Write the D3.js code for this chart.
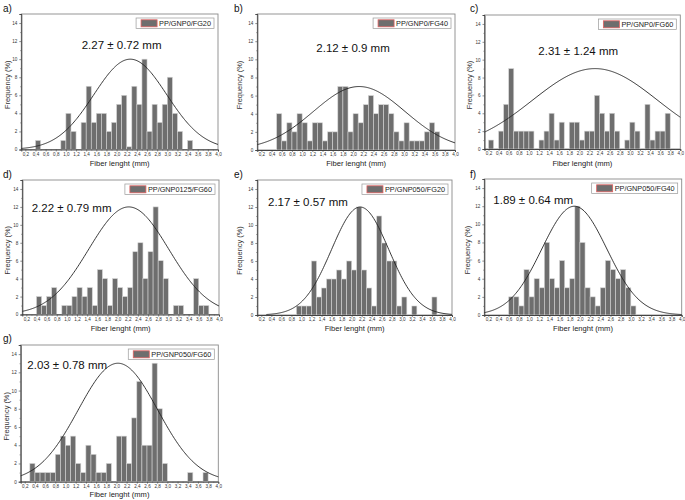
<!DOCTYPE html>
<html><head><meta charset="utf-8">
<script src="https://cdn.jsdelivr.net/npm/d3@7"></script>
<style>
body{margin:0;background:#fff}
svg text{font-family:"Liberation Sans",Arial,Helvetica,sans-serif}
</style>
</head><body>
<svg id="chart" width="685" height="500"></svg>
<script>
// ---------- data ----------
const bins = [0.1,0.2,0.3,0.4,0.5,0.6,0.7,0.8,0.9,1.0,1.1,1.2,1.3,1.4,1.5,1.6,1.7,1.8,1.9,2.0,
              2.1,2.2,2.3,2.4,2.5,2.6,2.7,2.8,2.9,3.0,3.1,3.2,3.3,3.4,3.5,3.6,3.7,3.8,3.9];
const binWidth = 0.1;
const panelTags = ["a)","b)","c)","d)","e)","f)","g)"];
const seriesNames = ["PP/GNP0/FG20","PP/GNP0/FG40","PP/GNP0/FG60","PP/GNP0125/FG60",
                     "PP/GNP050/FG20","PP/GNP050/FG40","PP/GNP050/FG60"];
const meanVals = [2.27,2.12,2.31,2.22,2.17,1.89,2.03];
const sdVals   = [0.72,0.9,1.24,0.79,0.57,0.64,0.78];
const fitPeaks = [10,7,9,12,12,12,13];
const curveStart = [0.12,0.12,0.12,0.12,0.3,0.12,0.12];
const freqA = [0,0,0,1,0,0,0,0,1,4, 2,0,3,7,3,4,4,2,3,5, 6,0.3,7,5,10,2,5,3,5,8, 4,2,0,1,0,0,0,0,0];
const freqB = [0,0,0,0,4,1,3,2,4,3, 1,3,3,1,2,2,7,7,2,4, 3,5,6,4,5,5,4,2,1,3, 1,1,1,2,3,2,0,0,0];
const freqC = [0,1,0,2,5,9,2,2,2,2, 0,1,2,4,1,3,0,3,3,1, 2,2,6,4,2,4,2,0,1,3, 2,0,5,1,2,2,4,0,0];
const freqD = [0,0,0,2,1,2,3,0,1,1, 2,3,2,3,1,5,4,1,4,3, 2,3,7,8,4,7,12,6,4,0, 1,1,0,0,4,1,1,0,0];
const freqE = [0,0,0,0,0,0,0,0,1,1, 1,6,2,3,4,4,5,4,6,5, 12,5,3,1,11,8,6,6,1,2, 0,1,0,0,0,2,0,0,0];
const freqF = [0,0,0,0,0,2,2,1,5,2, 4,3,8,4,3,6,3,4,12,8, 3,2,1,3,6,5,4,5,3,1, 0,0,0,0,0,0,0,0,0];
const freqG = [0,0,2,1,1,1,1,3,5,4, 5,2,1,4,3,1,1,2,0,5, 5,2,7,11,4,4,13,8,2,0, 0,0,0,1,0,0,1,0,0];
const xTickVals = [0.2,0.4,0.6,0.8,1.0,1.2,1.4,1.6,1.8,2.0,2.2,2.4,2.6,2.8,3.0,3.2,3.4,3.6,3.8,4.0];
const yTickVals = [0,2,4,6,8,10,12,14];
const xDomain = [0.12,4.0];
const yDomain = [0,15];
const xTitle = "Fiber lenght (mm)";
const yTitle = "Frequency (%)";

const freqs = [freqA,freqB,freqC,freqD,freqE,freqF,freqG];

// ---------- layout ----------
const layout = [
  {l:21.3, t:14,  r:218,   b:149.5, ann:[81.7,49],   tag:[3,11.5],   yt:7,     xtY:166},
  {l:257.3,t:14,  r:455,   b:150,   ann:[316.3,51.7],tag:[234,11.5], yt:239.7, xtY:166},
  {l:484.5,t:15,  r:680.3, b:149,   ann:[538.3,55],  tag:[470,11.5], yt:469,   xtY:166},
  {l:22.3, t:180, r:219,   b:314.5, ann:[31.7,211.7],tag:[3,177.5],  yt:7.3,   xtY:331},
  {l:257.3,t:180, r:452,   b:315,   ann:[268,206.3], tag:[234,177.5],yt:239.7, xtY:331},
  {l:484.3,t:179, r:681.7, b:315,   ann:[493.3,204], tag:[470,177.5],yt:467.7, xtY:331},
  {l:20.7, t:345, r:218.3, b:481.7, ann:[27.3,369],  tag:[3,342],    yt:6,     xtY:497}
];

const svg = d3.select("#chart");
const fmtX = d => d.toFixed(1).replace(".", ",");

layout.forEach((L, p) => {
  const x = d3.scaleLinear().domain(xDomain).range([L.l, L.r]);
  const y = d3.scaleLinear().domain(yDomain).range([L.b, L.t]);
  const g = svg.append("g");

  // frame
  g.append("rect").attr("x", L.l).attr("y", L.t).attr("width", L.r - L.l).attr("height", L.b - L.t)
    .attr("fill", "none").attr("stroke", "#8a8a8a").attr("stroke-width", 0.9);

  // bars
  g.append("g").selectAll("rect")
    .data(bins.map((b, i) => ({b, v: freqs[p][i]})).filter(d => d.v > 0))
    .join("rect")
    .attr("x", d => x(d.b))
    .attr("width", d => x(d.b + binWidth) - x(d.b))
    .attr("y", d => y(d.v))
    .attr("height", d => y(0) - y(d.v))
    .attr("fill", "#6e6e6e")
    .attr("stroke", "#d4d4d4")
    .attr("stroke-width", 0.6);

  // fitted normal curve
  const pts = d3.range(curveStart[p], xDomain[1] + 1e-6, 0.02).map(v =>
    [v, fitPeaks[p] * Math.exp(-((v - meanVals[p]) ** 2) / (2 * sdVals[p] ** 2))]);
  g.append("path").datum(pts)
    .attr("d", d3.line().x(d => x(d[0])).y(d => y(d[1])).curve(d3.curveBasis))
    .attr("fill", "none").attr("stroke", "#222").attr("stroke-width", 0.9);

  // axes
  const xa = g.append("g").attr("transform", `translate(0,${L.b})`)
    .call(d3.axisBottom(x).tickValues(xTickVals).tickSize(2).tickPadding(1.2).tickFormat(fmtX));
  const ya = g.append("g").attr("transform", `translate(${L.l},0)`)
    .call(d3.axisLeft(y).tickValues(yTickVals).tickSize(2).tickPadding(2).tickFormat(d3.format("d")));
  [xa, ya].forEach(a => {
    a.select(".domain").attr("stroke", "#333").attr("stroke-width", 0.9);
    a.selectAll(".tick line").attr("stroke", "#444").attr("stroke-width", 0.6);
    a.selectAll(".tick text").attr("font-size", 4.6).attr("fill", "#333")
      .style("font-family", "'Liberation Sans',Arial,sans-serif");
  });
  // minor ticks
  g.append("g").attr("transform", `translate(0,${L.b})`)
    .call(d3.axisBottom(x).tickValues(xTickVals.map(v => v - 0.1)).tickSize(1.2).tickFormat(""))
    .call(a => { a.select(".domain").remove(); a.selectAll("line").attr("stroke", "#555").attr("stroke-width", 0.5); });
  g.append("g").attr("transform", `translate(${L.l},0)`)
    .call(d3.axisLeft(y).tickValues(yTickVals.map(v => v + 1)).tickSize(1.2).tickFormat(""))
    .call(a => { a.select(".domain").remove(); a.selectAll("line").attr("stroke", "#555").attr("stroke-width", 0.5); });

  // axis titles
  g.append("text").attr("x", (L.l + L.r) / 2).attr("y", L.xtY)
    .attr("text-anchor", "middle").attr("font-size", 7.6).attr("fill", "#222").text(xTitle);
  g.append("text").attr("transform", `translate(${L.yt + 2.5},${(L.t + L.b) / 2 + 3}) rotate(-90)`)
    .attr("text-anchor", "middle").attr("font-size", 7.4).attr("fill", "#333").text(yTitle);

  // panel tag
  g.append("text").attr("x", L.tag[0]).attr("y", L.tag[1]).attr("font-size", 10).attr("fill", "#111").text(panelTags[p]);

  // annotation
  g.append("text").attr("x", L.ann[0]).attr("y", L.ann[1]).attr("font-size", 11.5).attr("fill", "#111")
    .text(`${meanVals[p]} ± ${sdVals[p]} mm`);

  // legend
  const lg = g.append("g");
  const lt = lg.append("text").attr("font-size", 7.3).attr("fill", "#222").text(seriesNames[p]);
  const tw = lt.node().getComputedTextLength();
  const bw = tw + 26, bh = 10.5;
  const bx = L.r - 4 - bw, by = L.t + 4;
  lg.insert("rect", "text").attr("x", bx).attr("y", by).attr("width", bw).attr("height", bh)
    .attr("fill", "#fff").attr("stroke", "#999").attr("stroke-width", 0.7);
  lg.insert("rect", "text").attr("x", bx + 5).attr("y", by + 1.8).attr("width", 16).attr("height", 7)
    .attr("fill", "#6e6e6e").attr("stroke", "#e06060").attr("stroke-width", 0.8);
  lt.attr("x", bx + 23).attr("y", by + 8);
});
</script>
</body></html>
